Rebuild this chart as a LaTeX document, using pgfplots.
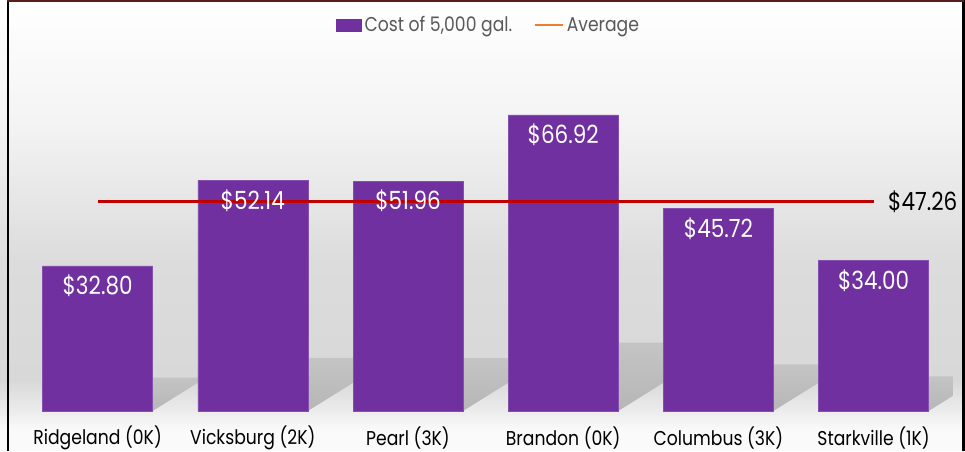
\documentclass[border=0pt]{standalone}
\usepackage{pgfplots}
\pgfplotsset{compat=1.18}
\usepackage{fontspec}
\setmainfont{Poppins}[FakeStretch=0.86]
\definecolor{barpurple}{HTML}{7030A0}
\definecolor{avgred}{HTML}{C00000}
\definecolor{avgorange}{HTML}{ED7D31}
\definecolor{legendgray}{HTML}{595959}
\definecolor{topline}{HTML}{5A1E1E}
\definecolor{bgA}{HTML}{F4F4F4}
\definecolor{bgB}{HTML}{DCDCDC}
\definecolor{bgC}{HTML}{D8D8D8}
\definecolor{bgD}{HTML}{ECECEC}
\definecolor{bgE}{HTML}{FAFAFA}
\definecolor{shadowtop}{HTML}{C4C4C4}
\definecolor{shadowbot}{HTML}{B6B6B6}
\begin{document}
\begin{tikzpicture}
\path[use as bounding box] (0pt,0pt) rectangle (965pt,451pt);
% background
\shade[top color=white, bottom color=bgA] (0pt,331pt) rectangle (965pt,451pt);
\shade[top color=bgA, bottom color=bgB] (0pt,191pt) rectangle (965pt,331.2pt);
\shade[top color=bgB, bottom color=bgC] (0pt,71pt) rectangle (965pt,191.2pt);
\shade[top color=bgC, bottom color=bgD] (0pt,40pt) rectangle (965pt,71.2pt);
\shade[top color=bgD, bottom color=bgE] (0pt,21pt) rectangle (965pt,40.2pt);
\fill[bgE] (0pt,0pt) rectangle (965pt,21.2pt);
\begin{axis}[
  at={(97.6pt,40pt)}, anchor=origin,
  scale only axis, width=931.2pt, height=353.9pt,
  xmin=-0.5, xmax=5.5, ymin=0, ymax=80,
  axis line style={draw=none},
  major tick length=0pt,
  ytick=\empty,
  xtick={0,1,2,3,4,5},
  xticklabels={Ridgeland (0K),Vicksburg (2K),Pearl (3K),Brandon (0K),Columbus (3K),Starkville (1K)},
  xticklabel style={anchor=center, yshift=-27pt, font=\fontsize{20}{24}\selectfont, text=black},
  clip=false,
  legend columns=2,
  legend style={at={(0.5,1)}, anchor=center, yshift=32pt, xshift=3.4pt, draw=none, fill=none,
    font=\fontsize{20}{24}\selectfont, text=legendgray,
    /tikz/every even column/.append style={column sep=19pt},
    nodes={inner xsep=2.5pt}},
]
% perspective shadows
\addplot[draw=none, forget plot, top color=shadowtop, bottom color=shadowbot] coordinates {(-0.354,0) (0.354,0) (0.699,7.56) (-0.009,7.56)};
\addplot[draw=none, forget plot, top color=shadowtop, bottom color=shadowbot] coordinates {(0.646,0) (1.354,0) (1.903,12.02) (1.195,12.02)};
\addplot[draw=none, forget plot, top color=shadowtop, bottom color=shadowbot] coordinates {(1.646,0) (2.354,0) (2.901,11.98) (2.193,11.98)};
\addplot[draw=none, forget plot, top color=shadowtop, bottom color=shadowbot] coordinates {(2.646,0) (3.354,0) (4.058,15.43) (3.350,15.43)};
\addplot[draw=none, forget plot, top color=shadowtop, bottom color=shadowbot] coordinates {(3.646,0) (4.354,0) (4.835,10.54) (4.127,10.54)};
\addplot[draw=none, forget plot, top color=shadowtop, bottom color=shadowbot] coordinates {(4.646,0) (5.354,0) (5.51,3.42) (5.51,7.84) (5.004,7.84)};
% bars
\addplot[ybar, bar width=110pt, fill=barpurple, draw=barpurple!85!white, line width=0.6pt,
  legend image code/.code={\fill[barpurple] (0pt,-6pt) rectangle (25pt,6pt);},
  point meta=explicit symbolic, nodes near coords,
  every node near coord/.append style={anchor=center, yshift=-20pt, text=white, font=\fontsize{25}{28}\selectfont}]
  coordinates {(0,32.80) [\$32.80] (1,52.14) [\$52.14] (2,51.96) [\$51.96] (3,66.92) [\$66.92] (4,45.72) [\$45.72] (5,34.00) [\$34.00]};
\addlegendentry{Cost of 5,000 gal.}
% average
\addlegendimage{legend image code/.code={\draw[avgorange, line width=2.5pt] (0pt,0pt) -- (28pt,0pt);}}
\addlegendentry{Average}
\addplot[avgred, line width=3pt, forget plot] coordinates {(0,47.26) (5,47.26)};
\addplot[draw=none, forget plot, point meta=explicit symbolic, nodes near coords,
  every node near coord/.append style={anchor=west, xshift=11pt, text=black, font=\fontsize{25}{28}\selectfont}]
  coordinates {(5,47.26) [\$47.26]};
\end{axis}
% frame lines
\draw[black, line width=2.5pt] (8pt,0pt) -- (8pt,451pt);
\draw[black, line width=2.5pt] (963.5pt,0pt) -- (963.5pt,451pt);
\draw[topline, line width=2pt] (7pt,450pt) -- (964pt,450pt);
\end{tikzpicture}
\end{document}
